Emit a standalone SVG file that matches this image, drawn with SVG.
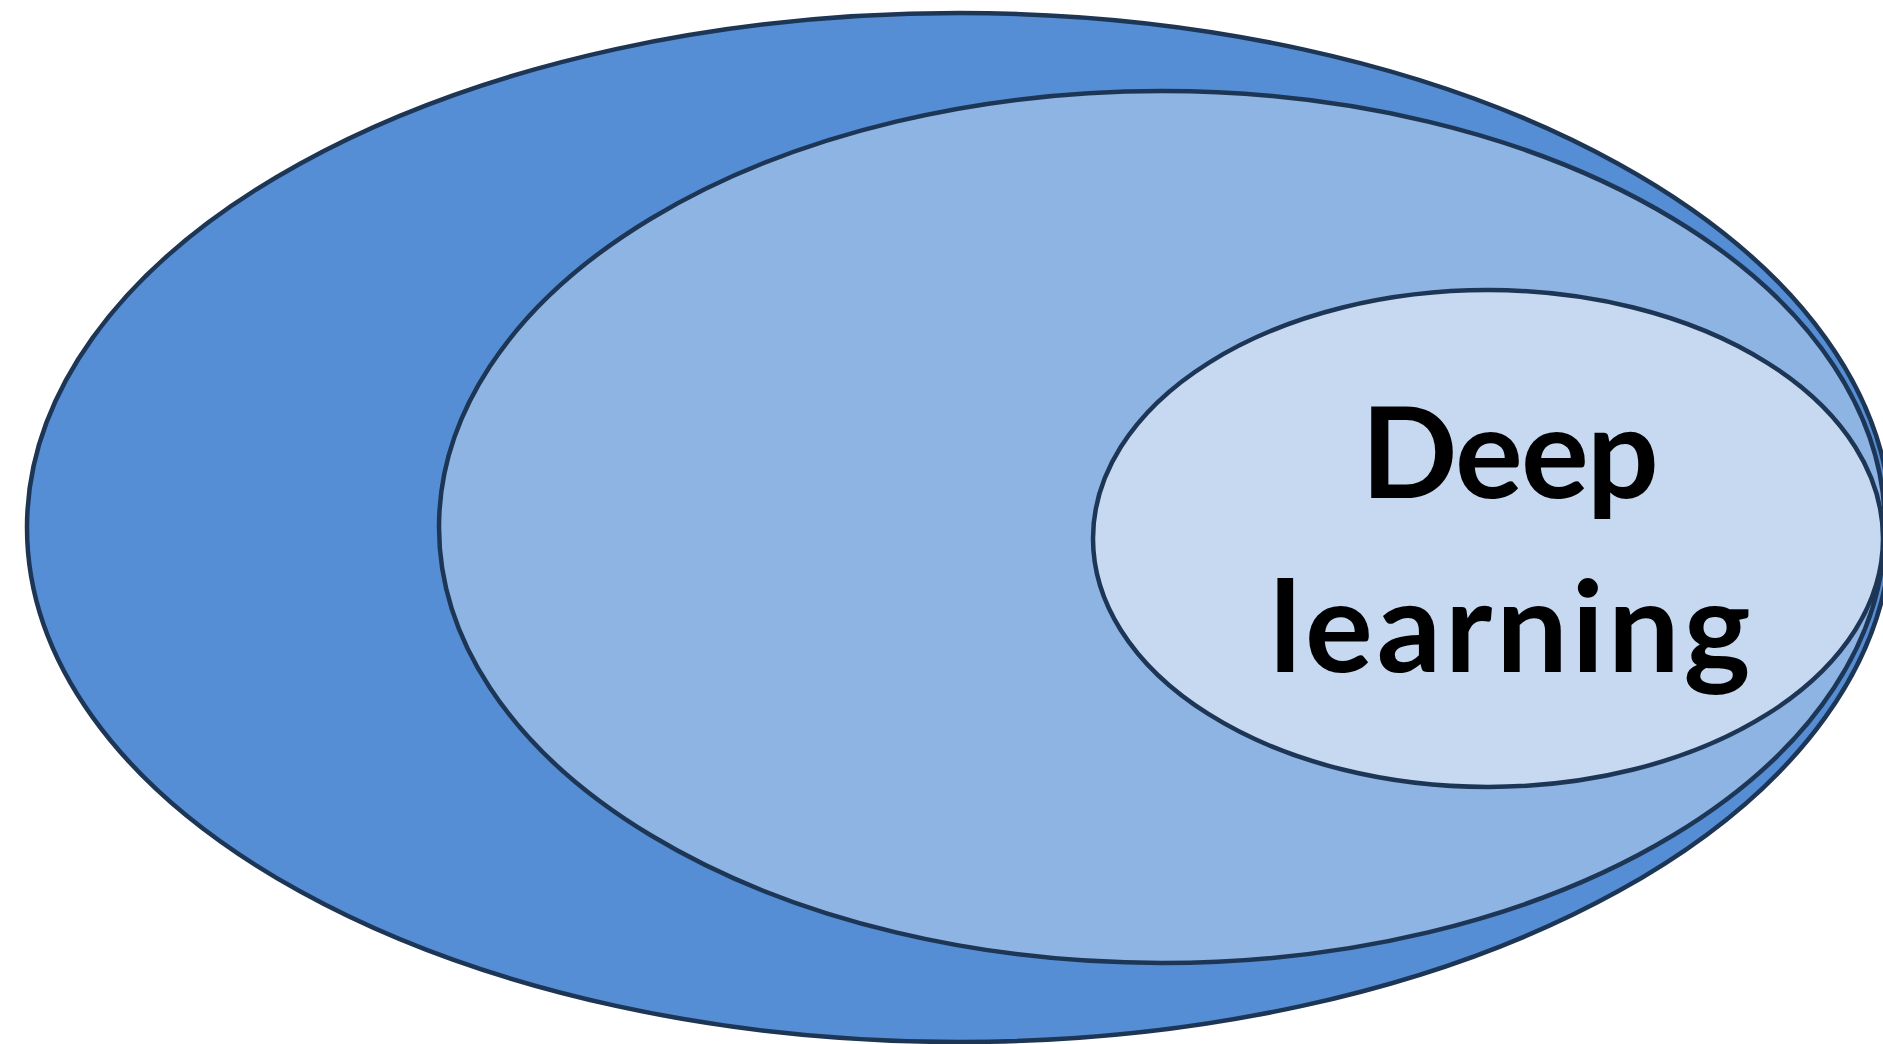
<svg xmlns="http://www.w3.org/2000/svg" width="1883" height="1044" viewBox="0 0 1883 1044">
<style>
.e{stroke:#1e3655;stroke-width:4.5}
.t{font-family:Lato,"Open Sans","Liberation Sans",sans-serif;font-weight:bold;font-size:127px;fill:#000;text-anchor:middle}
</style>
<rect width="1883" height="1044" fill="#fff"/>
<g id="outer"><ellipse class="e" cx="959" cy="527.5" rx="932" ry="514.5" fill="#558ed5"/></g>
<g id="middle"><ellipse class="e" cx="1162" cy="527" rx="723" ry="436" fill="#8eb4e3"/></g>
<g id="inner"><ellipse class="e" cx="1488" cy="538.5" rx="395" ry="248.5" fill="#c6d9f1"/>
<text class="t" x="1510" y="498" textLength="298" lengthAdjust="spacing">Deep</text>
<text class="t" x="1510" y="672" textLength="481" lengthAdjust="spacing">learning</text></g>
<g id="connectors"/>
</svg>
